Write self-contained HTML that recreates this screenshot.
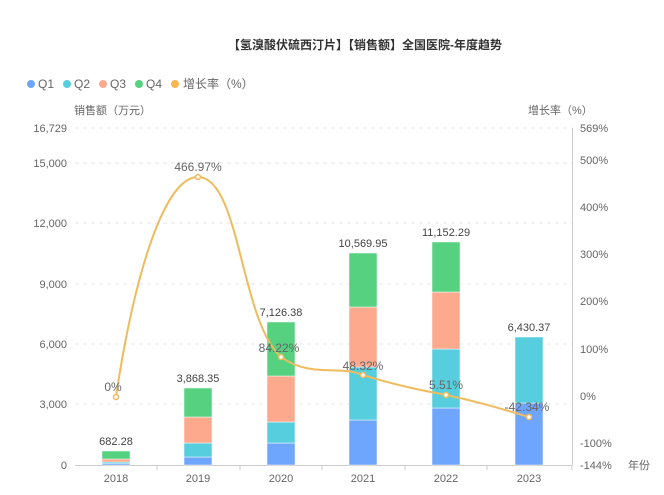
<!DOCTYPE html>
<html><head><meta charset="utf-8"><style>
body{margin:0;background:#fff;}
svg text{font-family:"Liberation Sans","Noto Sans CJK SC",sans-serif;}
</style></head><body>
<svg width="664" height="490" xmlns="http://www.w3.org/2000/svg">
<text x="365" y="49" text-anchor="middle" font-size="12" font-weight="bold" fill="#333">【氢溴酸伏硫西汀片】【销售额】全国医院-年度趋势</text>
<g font-size="12" fill="#666">
<circle cx="31" cy="84" r="4" fill="#6ea6fd"/><text x="38" y="88">Q1</text>
<circle cx="67" cy="84" r="4" fill="#56cedd"/><text x="74" y="88">Q2</text>
<circle cx="103" cy="84" r="4" fill="#fda98e"/><text x="110" y="88">Q3</text>
<circle cx="139" cy="84" r="4" fill="#56d17f"/><text x="146" y="88">Q4</text>
<circle cx="175" cy="84" r="4" fill="#f5b754"/><text x="183" y="88">增长率（%）</text>
<text x="74" y="114" font-size="11">销售额（万元）</text>
<text x="528" y="114" font-size="11">增长率（%）</text>
</g>
<g stroke="#e6e6e6" stroke-dasharray="4,4">
<line x1="75" x2="572" y1="128" y2="128"/><line x1="75" x2="572" y1="163" y2="163"/>
<line x1="75" x2="572" y1="223" y2="223"/><line x1="75" x2="572" y1="284" y2="284"/>
<line x1="75" x2="572" y1="344" y2="344"/><line x1="75" x2="572" y1="404" y2="404"/>
</g>
<line x1="75" x2="572" y1="465.5" y2="465.5" stroke="#ccc"/>
<line x1="572.5" x2="572.5" y1="128" y2="465" stroke="#ccc"/>
<g stroke="#ccc"><line x1="157" x2="157" y1="465" y2="470"/><line x1="240" x2="240" y1="465" y2="470"/><line x1="322" x2="322" y1="465" y2="470"/><line x1="405" x2="405" y1="465" y2="470"/><line x1="487" x2="487" y1="465" y2="470"/><line x1="572" x2="572" y1="465" y2="470"/></g>
<g font-size="11" fill="#666" text-anchor="end">
<text x="67" y="132">16,729</text><text x="67" y="167">15,000</text><text x="67" y="227">12,000</text><text x="67" y="288">9,000</text><text x="67" y="348">6,000</text><text x="67" y="408">3,000</text><text x="67" y="469">0</text>
</g>
<g font-size="11" fill="#666">
<text x="580" y="132">569%</text><text x="580" y="164">500%</text><text x="580" y="211">400%</text><text x="580" y="258">300%</text><text x="580" y="305">200%</text><text x="580" y="353">100%</text><text x="580" y="400">0%</text><text x="580" y="447">-100%</text><text x="580" y="469">-144%</text>
<text x="628" y="469">年份</text>
</g>
<g font-size="11" fill="#666" text-anchor="middle">
<text x="116" y="482">2018</text><text x="198" y="482">2019</text><text x="281" y="482">2020</text><text x="363" y="482">2021</text><text x="446" y="482">2022</text><text x="529" y="482">2023</text>
</g>
<g stroke="#fff" stroke-width="0.5">
<rect x="102" y="463" width="28" height="2" fill="#6ea6fd"/><rect x="102" y="462" width="28" height="1.5" fill="#56cedd"/><rect x="102" y="459" width="28" height="3" fill="#fda98e"/><rect x="102" y="451" width="28" height="8" fill="#56d17f"/>
<rect x="184" y="457" width="28" height="8" fill="#6ea6fd"/><rect x="184" y="443" width="28" height="14" fill="#56cedd"/><rect x="184" y="417" width="28" height="26" fill="#fda98e"/><rect x="184" y="388" width="28" height="29" fill="#56d17f"/>
<rect x="267" y="443" width="28" height="22" fill="#6ea6fd"/><rect x="267" y="422" width="28" height="21" fill="#56cedd"/><rect x="267" y="376" width="28" height="46" fill="#fda98e"/><rect x="267" y="322" width="28" height="54" fill="#56d17f"/>
<rect x="349" y="420" width="28" height="45" fill="#6ea6fd"/><rect x="349" y="367" width="28" height="53" fill="#56cedd"/><rect x="349" y="307" width="28" height="60" fill="#fda98e"/><rect x="349" y="253" width="28" height="54" fill="#56d17f"/>
<rect x="432" y="408" width="28" height="57" fill="#6ea6fd"/><rect x="432" y="349" width="28" height="59" fill="#56cedd"/><rect x="432" y="292" width="28" height="57" fill="#fda98e"/><rect x="432" y="242" width="28" height="50" fill="#56d17f"/>
<rect x="515" y="403" width="28" height="62" fill="#6ea6fd"/><rect x="515" y="337" width="28" height="66" fill="#56cedd"/>
</g>
<g font-size="11" fill="#444" text-anchor="middle">
<text x="116" y="445">682.28</text><text x="198" y="382">3,868.35</text><text x="281" y="316">7,126.38</text><text x="363" y="247">10,569.95</text><text x="446" y="236">11,152.29</text><text x="529" y="331">6,430.37</text>
</g>
<path d="M116,397 C130,300 160,177 198,177 C240,177 240,320 281,357 C310,378 340,365 363,375 C395,385 420,390 446,395 C480,402 505,410 529,417" fill="none" stroke="#f0bb5e" stroke-width="2"/>
<g fill="#fff" stroke="#f0bb5e" stroke-width="1.5">
<circle cx="116" cy="397" r="2.5"/><circle cx="198" cy="177" r="2.5"/><circle cx="281" cy="357" r="2.5"/><circle cx="363" cy="375" r="2.5"/><circle cx="446" cy="395" r="2.5"/><circle cx="529" cy="417" r="2.5"/>
</g>
<g font-size="12" fill="#666" text-anchor="middle">
<text x="113" y="391">0%</text><text x="198" y="171">466.97%</text><text x="279" y="352">84.22%</text><text x="363" y="370">48.32%</text><text x="446" y="389">5.51%</text><text x="527" y="411">-42.34%</text>
</g>
</svg>
</body></html>
